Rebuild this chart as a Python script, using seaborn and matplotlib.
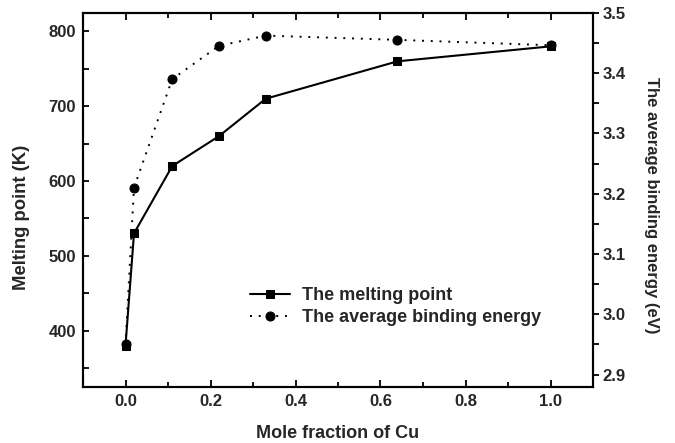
import matplotlib
matplotlib.use("Agg")
import matplotlib.pyplot as plt
import seaborn as sns
import pandas as pd
from matplotlib.ticker import MultipleLocator

# data
mole_fraction = [0.0, 0.02, 0.11, 0.22, 0.33, 0.64, 1.0]
melting_point = [380, 530, 620, 660, 710, 760, 780]
binding_energy = [2.95, 3.21, 3.39, 3.445, 3.462, 3.455, 3.446]
labels = ["The melting point", "The average binding energy"]
x_ticks = [0.0, 0.2, 0.4, 0.6, 0.8, 1.0]
x_ticklabels = ["0.0", "0.2", "0.4", "0.6", "0.8", "1.0"]

sns.set_style("ticks")
plt.rcParams['font.family'] = ['Liberation Sans', 'DejaVu Sans']

df = pd.DataFrame({"x": mole_fraction, "mp": melting_point, "be": binding_energy})

W, H = 675, 443
fig = plt.figure(figsize=(W / 100, H / 100), dpi=100)
ax_l, ax_b, ax_r, ax_t = 83, 386.7, 593, 12.7
ax = fig.add_axes([ax_l / W, 1 - ax_b / H, (ax_r - ax_l) / W, (ax_b - ax_t) / H])
ax2 = ax.twinx()

sns.lineplot(data=df, x="x", y="mp", ax=ax, color="black", marker="s",
             markersize=5.5, markeredgecolor="black", linewidth=1.5,
             label=labels[0], sort=False)
sns.lineplot(data=df, x="x", y="be", ax=ax2, color="black", marker="o",
             markersize=6.5, markeredgecolor="black", linewidth=1.4,
             linestyle=(0, (1, 3.5)), label=labels[1], sort=False)

ax.set_xlim(-0.1, 1.1)
ax.set_ylim(325, 825)
ax2.set_ylim(2.88, 3.5)

ax.xaxis.set_major_locator(MultipleLocator(0.2))
ax.xaxis.set_minor_locator(MultipleLocator(0.1))
ax.yaxis.set_major_locator(MultipleLocator(100))
ax.yaxis.set_minor_locator(MultipleLocator(50))
ax2.yaxis.set_major_locator(MultipleLocator(0.1))
ax2.yaxis.set_minor_locator(MultipleLocator(0.05))

for a in (ax, ax2):
    for s in a.spines.values():
        s.set_linewidth(1.5)
        s.set_color("black")
        s.set_visible(True)

ax.tick_params(axis="x", which="both", direction="in", top=True, bottom=True,
               width=1.3, color="black")
ax.tick_params(axis="x", which="major", length=5)
ax.tick_params(axis="x", which="minor", length=3.5)
ax.tick_params(axis="y", which="both", direction="in", left=True, right=False,
               length=4, width=1.3, color="black")
ax2.tick_params(axis="y", which="both", direction="out", right=True, left=False,
                length=4, width=1.3, color="black")
ax.tick_params(axis="both", which="major", labelsize=12, pad=5)
ax2.tick_params(axis="y", which="major", labelsize=12, pad=3)

ax.set_xticks(x_ticks)
ax.set_xticklabels(x_ticklabels, fontweight="bold", fontsize=12)
for lab in ax.get_yticklabels() + ax2.get_yticklabels():
    lab.set_fontweight("bold")

ax.set_xlabel("Mole fraction of Cu", fontsize=13, fontweight="bold", labelpad=12)
ax.set_ylabel("Melting point (K)", fontsize=13.3, fontweight="bold")
ax.yaxis.label.set_va("center")
ax.yaxis.set_label_coords((22 - ax_l) / (ax_r - ax_l), (ax_b - 217) / (ax_b - ax_t))

ax2.set_ylabel("The average binding energy (eV)", fontsize=12, fontweight="bold",
               rotation=270)
ax2.yaxis.label.set_va("center")
ax2.yaxis.set_label_coords((651 - ax_l) / (ax_r - ax_l), (ax_b - 205) / (ax_b - ax_t))

h1, l1 = ax.get_legend_handles_labels()
h2, l2 = ax2.get_legend_handles_labels()
if ax.get_legend() is not None:
    ax.get_legend().remove()
if ax2.get_legend() is not None:
    ax2.get_legend().remove()
leg = ax2.legend(h1 + h2, l1 + l2, loc="upper left",
                 bbox_to_anchor=(250 / W, 1 - 287 / H), bbox_transform=fig.transFigure,
                 frameon=False, borderpad=0, borderaxespad=0, handlelength=2.2,
                 handletextpad=0.7, labelspacing=0.3,
                 prop={"weight": "bold", "size": 13})

fig.savefig("out.png", dpi=100)
